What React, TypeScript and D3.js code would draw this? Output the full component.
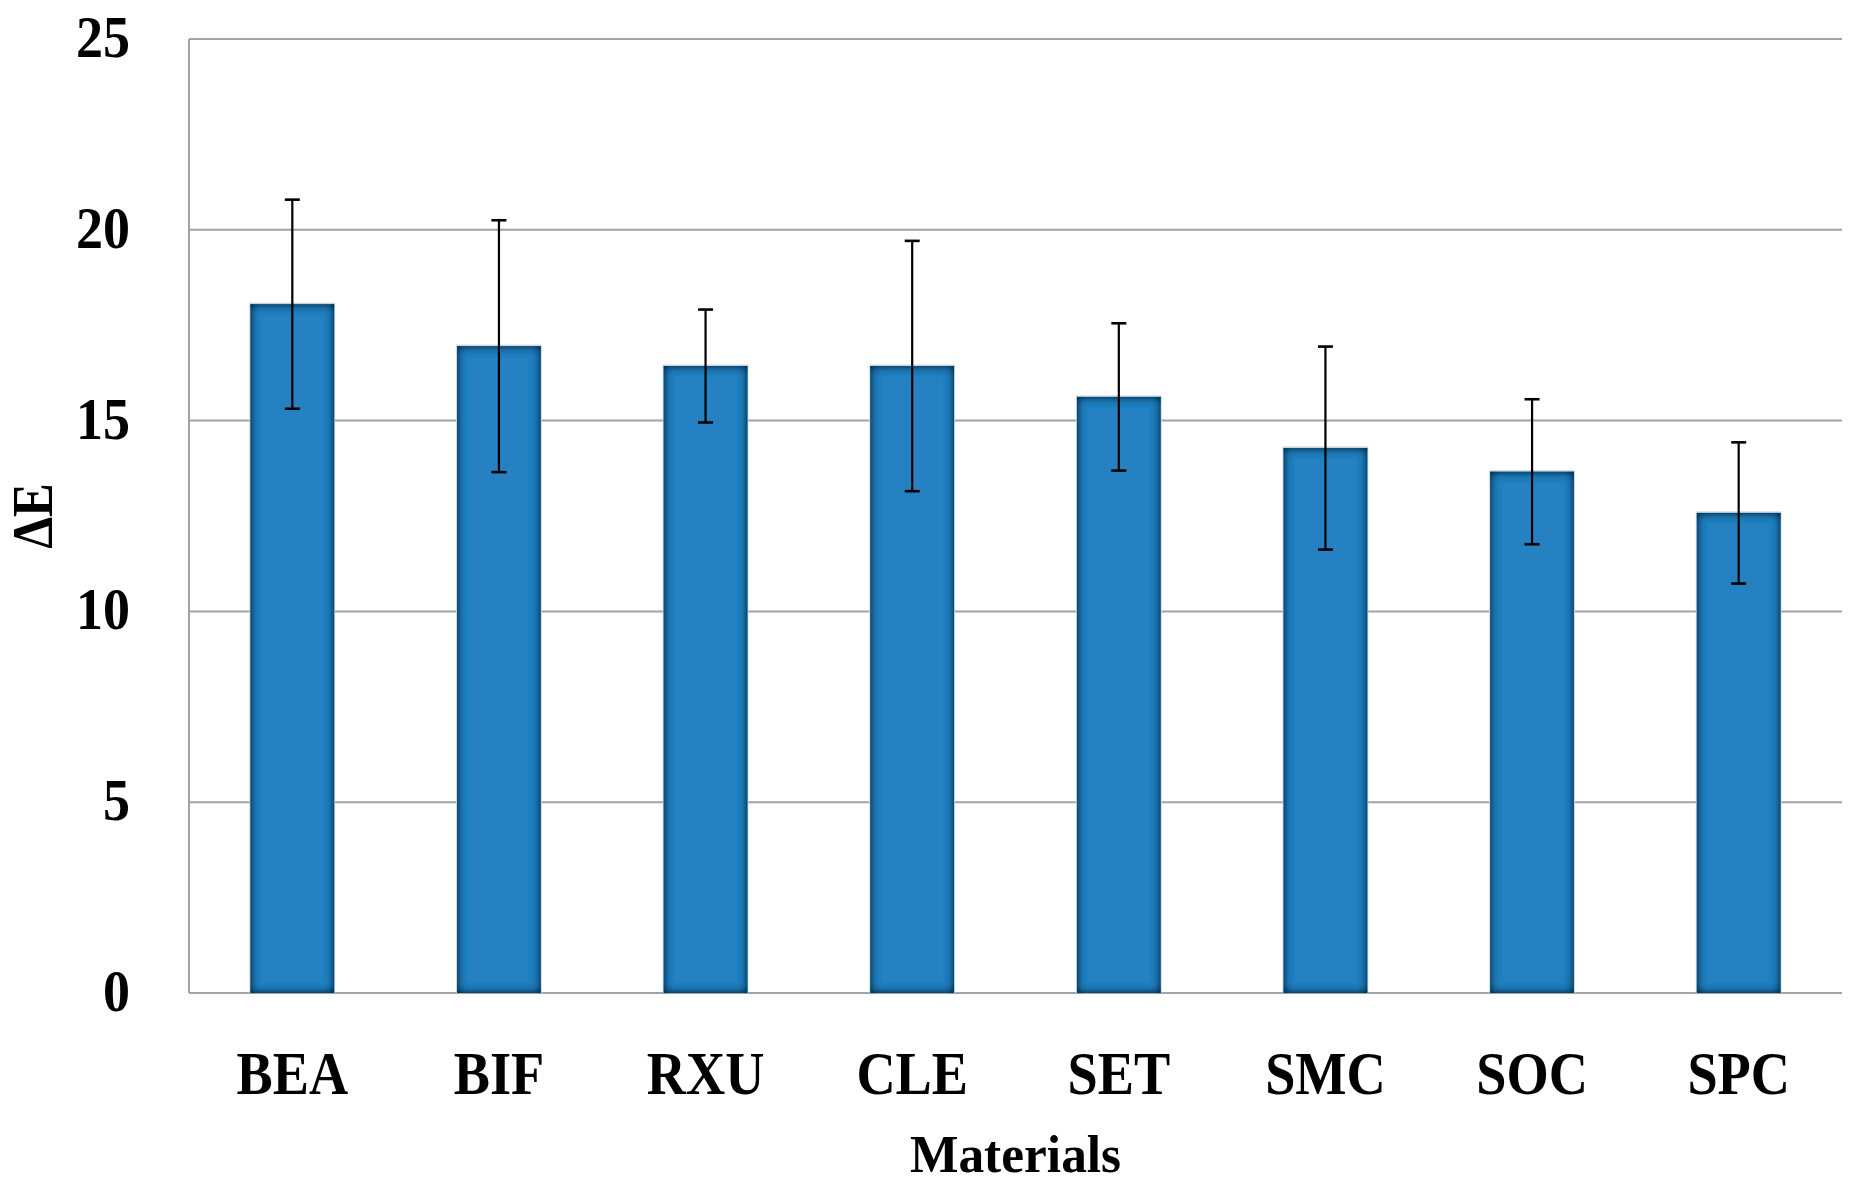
import * as d3 from "d3";
import React from "react";

const WIDTH = 1852;
const HEIGHT = 1183;
const MARGIN = { top: 39, right: 10, bottom: 190, left: 189 };

const categories = ["BEA", "BIF", "RXU", "CLE", "SET", "SMC", "SOC", "SPC"];
const meanValues = [18.05, 16.95, 16.43, 16.43, 15.62, 14.28, 13.66, 12.58];
const errorValues = [2.74, 3.3, 1.48, 3.28, 1.93, 2.66, 1.9, 1.85];
const yTicks = [0, 5, 10, 15, 20, 25];

const FONT = "'Liberation Serif', 'Times New Roman', serif";
const GRID = "#a3a3a3";

const App: React.FC = () => {
    const boundsWidth = WIDTH - MARGIN.left - MARGIN.right;
    const boundsHeight = HEIGHT - MARGIN.top - MARGIN.bottom;

    const xScale = d3
        .scaleBand<string>()
        .domain(categories)
        .range([0, boundsWidth]);
    const yScale = d3.scaleLinear().domain([0, 25]).range([boundsHeight, 0]);

    const barWidth = xScale.bandwidth() * 0.405;
    const capWidth = 15;

    return (
        <div style={{ position: "absolute", left: 0, top: 0 }}>
            <svg width={WIDTH} height={HEIGHT} style={{ display: "block" }}>
                <defs>
                    {/* inner shadow on the bars, like the Excel bevel */}
                    <filter id="innerShadow" x="-20%" y="-5%" width="140%" height="110%">
                        <feFlood floodColor="#062640" floodOpacity="1" />
                        <feComposite in2="SourceAlpha" operator="out" />
                        <feGaussianBlur stdDeviation="5" />
                        <feComposite in2="SourceAlpha" operator="in" result="shadow" />
                        <feMerge>
                            <feMergeNode in="SourceGraphic" />
                            <feMergeNode in="shadow" />
                            <feMergeNode in="shadow" />
                        </feMerge>
                    </filter>
                </defs>
                <rect width={WIDTH} height={HEIGHT} fill="#ffffff" />
                <g transform={`translate(${MARGIN.left},${MARGIN.top})`}>
                    {/* gridlines */}
                    {yTicks.map((t) => (
                        <line
                            key={t}
                            x1={0}
                            x2={boundsWidth}
                            y1={yScale(t)}
                            y2={yScale(t)}
                            stroke={GRID}
                            strokeWidth={2}
                        />
                    ))}
                    <line x1={0} x2={0} y1={0} y2={boundsHeight} stroke={GRID} strokeWidth={2} />

                    {/* bars */}
                    {categories.map((c, i) => {
                        const cx = (xScale(c) || 0) + xScale.bandwidth() / 2;
                        const yTop = yScale(meanValues[i]);
                        return (
                            <g key={c}>
                                <rect
                                    x={cx - barWidth / 2 - 1}
                                    y={yTop - 1.5}
                                    width={barWidth + 2}
                                    height={boundsHeight - yTop + 1.5}
                                    fill="#c9d3dc"
                                />
                                <rect
                                    x={cx - barWidth / 2}
                                    y={yTop}
                                    width={barWidth}
                                    height={boundsHeight - yTop}
                                    fill="#2681c2"
                                    filter="url(#innerShadow)"
                                />
                            </g>
                        );
                    })}

                    {/* error bars */}
                    {categories.map((c, i) => {
                        const cx = (xScale(c) || 0) + xScale.bandwidth() / 2;
                        const hi = yScale(meanValues[i] + errorValues[i]);
                        const lo = yScale(meanValues[i] - errorValues[i]);
                        return (
                            <g key={c} stroke="#000000">
                                <line x1={cx} x2={cx} y1={hi} y2={lo} strokeWidth={2.2} />
                                <line x1={cx - capWidth / 2} x2={cx + capWidth / 2} y1={hi} y2={hi} strokeWidth={2.6} />
                                <line x1={cx - capWidth / 2} x2={cx + capWidth / 2} y1={lo} y2={lo} strokeWidth={2.6} />
                            </g>
                        );
                    })}

                    {/* y tick labels */}
                    {yTicks.map((t) => (
                        <text
                            key={t}
                            transform={`translate(-59,${yScale(t) + 18}) scale(0.9,1)`}
                            textAnchor="end"
                            fontFamily={FONT}
                            fontWeight="bold"
                            fontSize={60}
                            fill="#000"
                        >
                            {t}
                        </text>
                    ))}

                    {/* x category labels */}
                    {categories.map((c) => (
                        <text
                            key={c}
                            transform={`translate(${(xScale(c) || 0) + xScale.bandwidth() / 2},${boundsHeight + 101}) scale(0.89,1)`}
                            textAnchor="middle"
                            fontFamily={FONT}
                            fontWeight="bold"
                            fontSize={61}
                            fill="#000"
                        >
                            {c}
                        </text>
                    ))}

                    {/* axis titles */}
                    <text
                        transform={`translate(${boundsWidth / 2},${boundsHeight + 179}) scale(0.97,1)`}
                        textAnchor="middle"
                        fontFamily={FONT}
                        fontWeight="bold"
                        fontSize={53}
                        fill="#000"
                    >
                        Materials
                    </text>
                    <text
                        transform={`translate(${-189 + 52},${boundsHeight / 2}) rotate(-90) scale(0.89,1)`}
                        textAnchor="middle"
                        fontFamily={FONT}
                        fontWeight="bold"
                        fontSize={57}
                        fill="#000"
                    >
                        ΔE
                    </text>
                </g>
            </svg>
        </div>
    );
};

export default App;
